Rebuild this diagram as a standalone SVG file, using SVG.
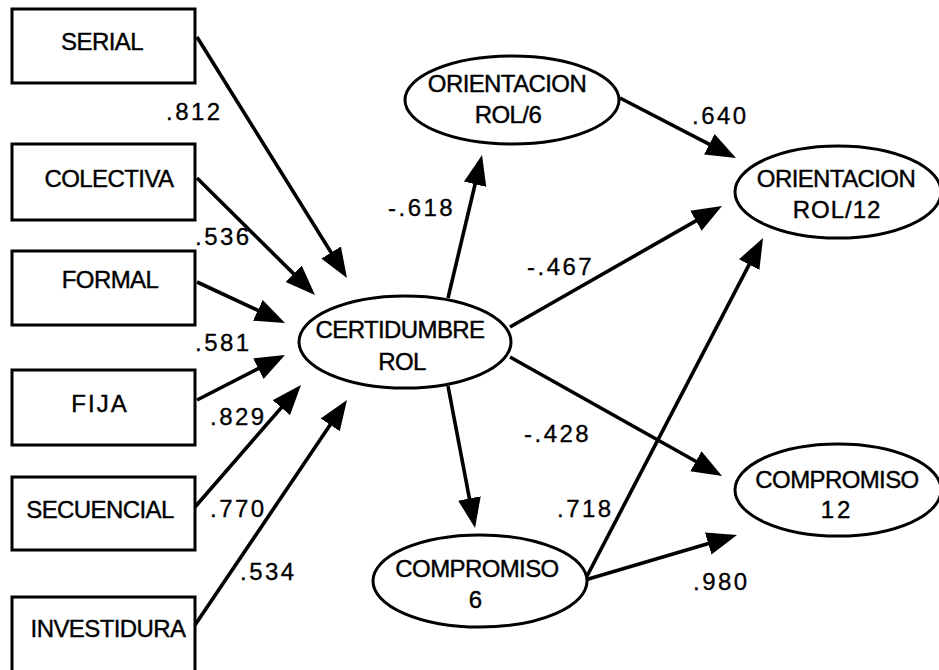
<svg xmlns="http://www.w3.org/2000/svg" width="939" height="670" viewBox="0 0 939 670">
  <style>
    .box { fill: #fff; stroke: #000; stroke-width: 3; }
    .ell { fill: #fff; stroke: #000; stroke-width: 3; }
    .name { font-family: "Liberation Sans", Arial, sans-serif; font-size: 24px; letter-spacing: -0.6px; text-anchor: middle; fill: #000; stroke: #000; stroke-width: 0.4px; }
    .coef { font-family: "Liberation Sans", Arial, sans-serif; font-size: 24px; letter-spacing: 2.5px; fill: #000; stroke: #000; stroke-width: 0.3px; }
    .edge { fill: none; stroke: #000; stroke-width: 3.6; marker-end: url(#head); }
  </style>
  <defs>
    <marker id="head" markerUnits="userSpaceOnUse" markerWidth="30" markerHeight="24" viewBox="0 -12 30 24" refX="10" refY="0" orient="auto">
      <path d="M0,-11.5 L30,0 L0,11.5 z" fill="#000"/>
    </marker>
  </defs>
  <rect width="939" height="670" fill="#fff"/>

  <!-- path connectors (lines end short of the tip; marker carries the head) -->
  <g id="connectors">
    <line class="edge" x1="197" y1="37" x2="336.4" y2="261.0"/>
    <line class="edge" x1="197" y1="178" x2="300.8" y2="280.9"/>
    <line class="edge" x1="197" y1="282" x2="266.9" y2="314.6"/>
    <line class="edge" x1="197" y1="400" x2="267.2" y2="364.1"/>
    <line class="edge" x1="195" y1="507" x2="287.9" y2="400.1"/>
    <line class="edge" x1="195" y1="625" x2="335.8" y2="416.6"/>
    <line class="edge" x1="448" y1="298" x2="477.4" y2="174.5"/>
    <line class="edge" x1="510" y1="327" x2="704.6" y2="215.9"/>
    <line class="edge" x1="510" y1="357" x2="704.6" y2="466.2"/>
    <line class="edge" x1="448" y1="386" x2="471.3" y2="508.3"/>
    <line class="edge" x1="620" y1="98" x2="718.2" y2="148.8"/>
    <line class="edge" x1="585" y1="580" x2="753.8" y2="255.7"/>
    <line class="edge" x1="585" y1="580" x2="717.8" y2="540.7"/>
  </g>

  <!-- path coefficients -->
  <g id="coefficients">
    <text class="coef" x="166" y="120">.812</text>
    <text class="coef" x="195" y="245">.536</text>
    <text class="coef" x="195" y="351">.581</text>
    <text class="coef" x="210" y="425">.829</text>
    <text class="coef" x="210" y="517">.770</text>
    <text class="coef" x="240" y="580">.534</text>
    <text class="coef" x="388" y="216">-.618</text>
    <text class="coef" x="527" y="275">-.467</text>
    <text class="coef" x="524" y="442">-.428</text>
    <text class="coef" x="692" y="124">.640</text>
    <text class="coef" x="557" y="517">.718</text>
    <text class="coef" x="693" y="590">.980</text>
  </g>

  <!-- observed variables -->
  <g id="serial">
    <rect class="box" x="12" y="9" width="183" height="74"/>
    <text class="name" x="102" y="50">SERIAL</text>
  </g>
  <g id="colectiva">
    <rect class="box" x="12" y="144" width="183" height="76"/>
    <text class="name" x="109" y="187">COLECTIVA</text>
  </g>
  <g id="formal">
    <rect class="box" x="12" y="251" width="183" height="74"/>
    <text class="name" x="110" y="288">FORMAL</text>
  </g>
  <g id="fija">
    <rect class="box" x="12" y="370" width="183" height="75"/>
    <text class="name" x="100" y="412" style="letter-spacing:2px">FIJA</text>
  </g>
  <g id="secuencial">
    <rect class="box" x="12" y="477" width="183" height="73"/>
    <text class="name" x="100" y="518">SECUENCIAL</text>
  </g>
  <g id="investidura">
    <rect class="box" x="12" y="597" width="183" height="78"/>
    <text class="name" x="108" y="637">INVESTIDURA</text>
  </g>

  <!-- latent variables -->
  <g id="certidumbre-rol">
    <ellipse class="ell" cx="405" cy="342" rx="106" ry="46"/>
    <text class="name" x="400" y="338">CERTIDUMBRE</text>
    <text class="name" x="402" y="370">ROL</text>
  </g>
  <g id="orientacion-rol-6">
    <ellipse class="ell" cx="512" cy="100" rx="107" ry="44"/>
    <text class="name" x="507" y="92">ORIENTACION</text>
    <text class="name" x="508" y="123">ROL/6</text>
  </g>
  <g id="compromiso-6">
    <ellipse class="ell" cx="480" cy="581" rx="107" ry="46"/>
    <text class="name" x="477" y="577">COMPROMISO</text>
    <text class="name" x="475" y="608">6</text>
  </g>
  <g id="orientacion-rol-12">
    <ellipse class="ell" cx="838" cy="192" rx="103" ry="46"/>
    <text class="name" x="836" y="187">ORIENTACION</text>
    <text class="name" x="837" y="218" style="letter-spacing:1px">ROL/12</text>
  </g>
  <g id="compromiso-12">
    <ellipse class="ell" cx="838" cy="490" rx="103" ry="46"/>
    <text class="name" x="837" y="488">COMPROMISO</text>
    <text class="name" x="837" y="518" style="letter-spacing:3px">12</text>
  </g>
</svg>
